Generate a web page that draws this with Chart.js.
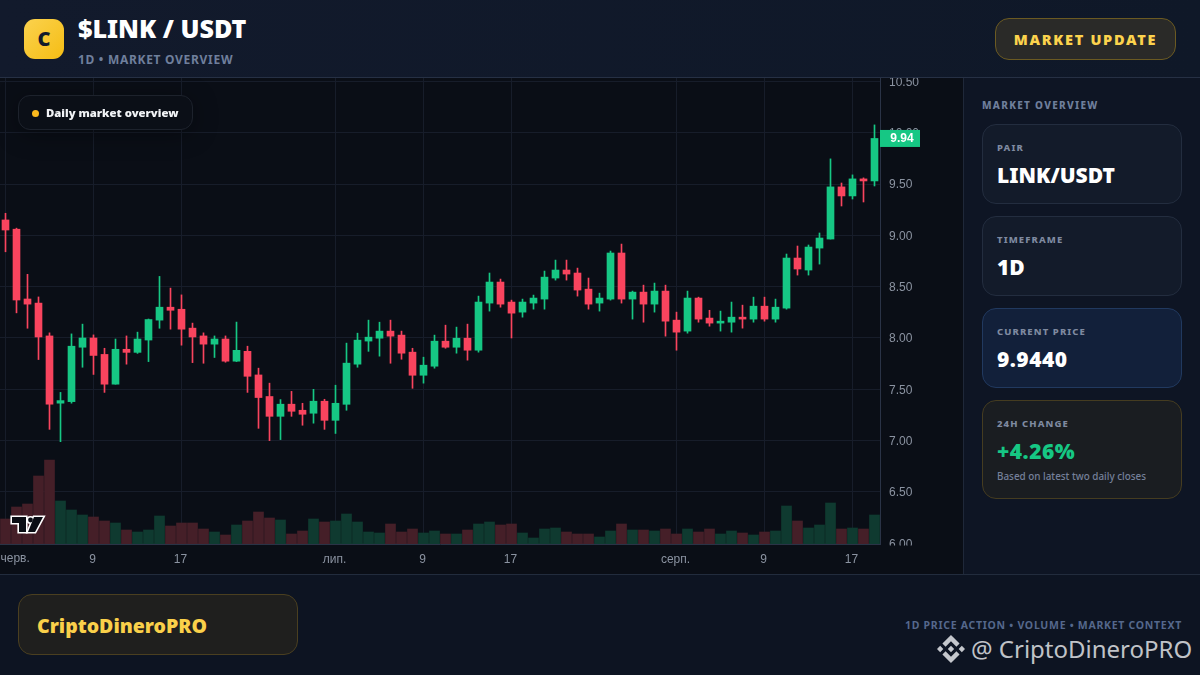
<!DOCTYPE html>
<html>
<head>
<meta charset="utf-8">
<script src="https://cdn.jsdelivr.net/npm/chart.js@4"></script>
<style>
  * { box-sizing: border-box; margin: 0; padding: 0; }
  html, body { width: 1200px; height: 675px; overflow: hidden; background: #0e1524; font-family: "Noto Sans", sans-serif; }
  .abs { position: absolute; }
  #header { left: 0; top: 0; width: 1200px; height: 78px; background: linear-gradient(90deg, #121a2c, #0f1828); border-bottom: 1px solid #263044; z-index: 3; }
  #logo { left: 24px; top: 19px; width: 40px; height: 40px; border-radius: 11px; background: linear-gradient(135deg, #fbd24e, #f5bd14); color: #111a2b; font: 900 20px "Noto Sans"; text-align: center; line-height: 40px; }
  #title { left: 78px; top: 11px; color: #fff; font: 900 25.1px "Noto Sans"; line-height: 34px; white-space: nowrap; }
  #sub { left: 78px; top: 51px; color: #6f7f9c; font: 700 12px "Noto Sans"; letter-spacing: 0.7px; line-height: 17px; white-space: nowrap; }
  #update { left: 995px; top: 18px; width: 181px; height: 42px; border-radius: 14px; border: 1px solid #6b5a22; background: #2a2a28; color: #fcd34d; font: 900 14.5px "Noto Sans"; letter-spacing: 1.7px; text-align: center; line-height: 40px; }
  #chartWrap { left: 0; top: 78px; width: 963px; height: 496px; background: #0a0e16; }
  #pill { left: 18px; top: 95px; width: 175px; height: 35px; border-radius: 12px; border: 1px solid #1d222c; background: #0b0f17; box-shadow: 0 4px 24px rgba(0,0,0,.35); z-index: 2; }
  #pillDot { left: 32px; top: 110px; width: 7px; height: 7px; border-radius: 50%; background: #fbb91e; z-index: 2; }
  #pillText { left: 46px; top: 104px; color: #f1f3f6; font: 900 11.3px "Noto Sans"; line-height: 18px; white-space: nowrap; z-index: 2; }
  #tv { left: 10px; top: 515px; z-index: 2; }
  #side { left: 963px; top: 78px; width: 237px; height: 496px; background: #0e1524; border-left: 1px solid #1f2839; }
  #sideTitle { left: 982px; top: 98px; color: #6f7f9c; font: 800 10px "Noto Sans"; letter-spacing: 1.3px; line-height: 14px; white-space: nowrap; }
  .card { position: absolute; left: 982px; width: 200px; border-radius: 14px; border: 1px solid #232d3f; background: #131b2a; }
  .cardLabel { position: absolute; left: 997px; color: #7f8aa0; font: 800 9.5px "Noto Sans"; letter-spacing: 1.1px; line-height: 13px; white-space: nowrap; }
  .cardValue { position: absolute; left: 997px; color: #fff; font: 900 21px "Noto Sans"; line-height: 28px; white-space: nowrap; }
  #footer { left: 0; top: 574px; width: 1200px; height: 101px; background: #0d1422; border-top: 1px solid #222c3d; }
  #brand { left: 18px; top: 594px; width: 280px; height: 61px; border-radius: 14px; border: 1px solid #4a3f20; background: #1f1f1e; color: #fad04a; font: 900 19.5px "Noto Sans"; padding-left: 18px; line-height: 61px; }
  #tag { right: 18px; top: 618px; color: #55688c; font: 700 10.5px "Noto Sans"; letter-spacing: 0.72px; line-height: 15px; white-space: nowrap; }
  #mark { left: 971px; top: 632px; color: #c0c3c8; font: 400 24px "Noto Sans"; line-height: 34px; white-space: nowrap; }
  #bn { left: 937px; top: 635px; }
</style>
</head>
<body>
<div class="abs" id="header"></div>
<div class="abs" id="logo" style="z-index:4">C</div>
<div class="abs" id="title" style="z-index:4">$LINK / USDT</div>
<div class="abs" id="sub" style="z-index:4">1D • MARKET OVERVIEW</div>
<div class="abs" id="update" style="z-index:4">MARKET UPDATE</div>

<div class="abs" id="chartWrap"><canvas id="chart" width="963" height="496"></canvas></div>

<div class="abs" id="pill"></div>
<div class="abs" id="pillDot"></div>
<div class="abs" id="pillText">Daily market overview</div>
<svg class="abs" id="tv" width="36" height="20" viewBox="0 0 36 20">
  <g fill="#fff" stroke="#fff" stroke-width="3.2">
    <path d="M2 2 H16 V17 H9 V8 H2 Z"/>
    <circle cx="20.5" cy="5" r="2.4"/>
    <path d="M24 2 H33 L25 17 H18 Z"/>
  </g>
  <g fill="#0a0d14">
    <path d="M2 2 H16 V17 H9 V8 H2 Z"/>
    <circle cx="20.5" cy="5" r="2.4"/>
    <path d="M24 2 H33 L25 17 H18 Z"/>
  </g>
</svg>

<div class="abs" id="side"></div>
<div class="abs" id="sideTitle">MARKET OVERVIEW</div>

<div class="card" style="top:124px;height:80px"></div>
<div class="cardLabel" style="top:141px">PAIR</div>
<div class="cardValue" style="top:161px">LINK/USDT</div>

<div class="card" style="top:216px;height:80px"></div>
<div class="cardLabel" style="top:233px">TIMEFRAME</div>
<div class="cardValue" style="top:253px">1D</div>

<div class="card" style="top:308px;height:80px;background:#12203a;border-color:#21395f"></div>
<div class="cardLabel" style="top:325px">CURRENT PRICE</div>
<div class="cardValue" style="top:345px;letter-spacing:.5px">9.9440</div>

<div class="card" style="top:400px;height:99px;background:#1a1d21;border-color:#453c20"></div>
<div class="cardLabel" style="top:417px">24H CHANGE</div>
<div class="cardValue" style="top:437px;color:#16c784;letter-spacing:.5px">+4.26%</div>
<div class="cardLabel" style="top:470px;font-size:9.9px;font-weight:500;letter-spacing:0;color:#75809a">Based on latest two daily closes</div>

<div class="abs" id="footer"></div>
<div class="abs" id="brand">CriptoDineroPRO</div>
<div class="abs" id="tag">1D PRICE ACTION • VOLUME • MARKET CONTEXT</div>
<svg class="abs" id="bn" width="28" height="28" viewBox="0 0 24 24" fill="#c4c7cc">
  <path d="M16.624 13.9202l2.7175 2.7154-7.353 7.353-7.353-7.352 2.7175-2.7164 4.6355 4.6595 4.6356-4.6595zm4.6366-4.6366L24 12l-2.7154 2.7164L18.5682 12l2.6924-2.7164zm-9.272.001l2.7163 2.6914-2.7164 2.7174v-.001L9.2721 12l2.7164-2.7154zm-9.2722-.001L5.4088 12l-2.6914 2.6924L0 12l2.7164-2.7164zM11.9885.0115l7.353 7.329-2.7174 2.7154-4.6356-4.6356-4.6355 4.6595-2.7174-2.7154 7.353-7.353z"/>
</svg>
<div class="abs" id="mark">@ CriptoDineroPRO</div>

<script>
// daily candles, 1 June .. 19 Aug
const dates = ['06-01','06-02','06-03','06-04','06-05','06-06','06-07','06-08','06-09','06-10','06-11','06-12','06-13','06-14','06-15','06-16','06-17','06-18','06-19','06-20','06-21','06-22','06-23','06-24','06-25','06-26','06-27','06-28','06-29','06-30','07-01','07-02','07-03','07-04','07-05','07-06','07-07','07-08','07-09','07-10','07-11','07-12','07-13','07-14','07-15','07-16','07-17','07-18','07-19','07-20','07-21','07-22','07-23','07-24','07-25','07-26','07-27','07-28','07-29','07-30','07-31','08-01','08-02','08-03','08-04','08-05','08-06','08-07','08-08','08-09','08-10','08-11','08-12','08-13','08-14','08-15','08-16','08-17','08-18','08-19'];

const opens = [9.15,9.06,8.38,8.34,8.02,7.365,7.38,7.91,8.0,7.84,7.55,7.89,7.86,7.98,8.174,8.30,8.28,8.096,8.02,7.94,7.99,7.774,7.87,7.64,7.43,7.237,7.355,7.296,7.267,7.384,7.198,7.354,7.745,7.97,7.998,8.067,8.028,7.862,7.637,7.725,7.969,7.91,7.998,7.881,8.34,8.545,8.35,8.252,8.34,8.379,8.584,8.662,8.633,8.476,8.34,8.379,8.828,8.379,8.447,8.33,8.457,8.174,8.067,8.389,8.194,8.145,8.154,8.203,8.184,8.31,8.184,8.291,8.779,8.662,8.876,8.964,9.472,9.384,9.55,9.53];
const closes = [9.052,8.37,8.33,8.01,7.355,7.39,7.92,8.0,7.83,7.55,7.89,7.86,7.99,8.18,8.30,8.27,8.086,8.01,7.94,7.99,7.774,7.88,7.627,7.42,7.237,7.355,7.286,7.257,7.384,7.198,7.364,7.755,7.979,8.008,8.067,8.018,7.852,7.637,7.735,7.969,7.91,7.998,7.881,8.35,8.545,8.33,8.242,8.35,8.389,8.593,8.662,8.623,8.467,8.33,8.389,8.828,8.379,8.447,8.33,8.457,8.164,8.057,8.389,8.184,8.145,8.164,8.203,8.184,8.31,8.184,8.30,8.779,8.672,8.886,8.974,9.472,9.384,9.55,9.53,9.944];
const highs = [9.215,9.07,8.62,8.40,8.05,7.47,8.04,8.135,8.03,7.90,7.99,8.02,8.057,8.185,8.60,8.486,8.42,8.145,8.05,8.02,8.02,8.155,7.92,7.706,7.56,7.40,7.48,7.364,7.50,7.403,7.54,7.95,8.047,8.174,8.154,8.174,8.067,7.90,7.813,8.028,8.125,8.106,8.135,8.408,8.633,8.574,8.369,8.379,8.418,8.652,8.759,8.759,8.681,8.584,8.437,8.847,8.915,8.457,8.515,8.535,8.515,8.252,8.457,8.398,8.27,8.262,8.35,8.32,8.398,8.398,8.379,8.818,8.896,8.906,9.023,9.745,9.51,9.589,9.56,10.076];
const lows = [8.84,8.245,8.095,7.79,7.11,6.99,7.365,7.715,7.645,7.47,7.55,7.745,7.85,7.77,8.095,8.086,7.93,7.76,7.754,7.81,7.764,7.77,7.47,7.12,7.0,7.01,7.237,7.15,7.17,7.11,7.07,7.296,7.715,7.87,7.823,7.754,7.793,7.51,7.56,7.706,7.90,7.852,7.784,7.862,8.262,8.30,8.0,8.203,8.281,8.281,8.564,8.564,8.408,8.281,8.262,8.369,8.34,8.184,8.154,8.252,8.018,7.881,8.047,8.154,8.115,8.067,8.057,8.096,8.154,8.164,8.154,8.281,8.613,8.613,8.72,8.964,9.286,9.354,9.325,9.481];
const volumes = [25,37,40,68,84,43,34,29,27,23,21,14,12,14,28,18,21,21,15,12,9,19,23,32,26,24,10,13,25,22,23,30,22,12,11,20,12,15,11,13,10,10,14,20,22,19,20,11,6,15,16,12,10,10,7,13,20,14,14,13,15,10,15,12,15,10,13,11,9,12,13,38,23,16,19,41,15,16,15,29];

// labelled days: index into dates -> text on the time axis
const timeTicks = { 0: 'черв.', 8: '9', 16: '17', 30: 'лип.', 38: '9', 46: '17', 61: 'серп.', 69: '9', 77: '17' };
const priceTicks = [6, 6.5, 7, 7.5, 8, 8.5, 9, 9.5, 10, 10.5];

const UP = '#16c784', DOWN = '#f9445e';
const UP_VOL = '#0f3a30', DOWN_VOL = '#451f28';
const GRID = '#171d2a', AXIS_TEXT = '#8b93a1', CHART_BG = '#0a0e16';

const candleColors = closes.map((c, i) => c >= opens[i] ? UP : DOWN);
const volumeColors = closes.map((c, i) => c >= opens[i] ? UP_VOL : DOWN_VOL);

// last-price badge, the first month label against the left edge, and the cut-off 6.00 label
const overlay = {
  id: 'overlay',
  afterDraw(chart) {
    const { ctx, scales } = chart;
    const last = closes[closes.length - 1];
    const y = scales.y.getPixelForValue(last);
    const left = scales.y.left;
    ctx.save();
    ctx.fillStyle = CHART_BG;
    ctx.fillRect(left + 1, scales.x.top + 1.5, 82, 12);
    ctx.fillStyle = UP;
    ctx.fillRect(left, y - 8.5, 40, 17);
    ctx.fillStyle = '#fff';
    ctx.font = 'bold 12px "Liberation Sans"';
    ctx.textBaseline = 'middle';
    ctx.textAlign = 'center';
    ctx.fillText(last.toFixed(2), left + 22, y + 0.5);
    ctx.fillStyle = AXIS_TEXT;
    ctx.font = '12px "Liberation Sans"';
    ctx.textAlign = 'left';
    ctx.fillText(timeTicks[0], 0.5, scales.x.top + 15);
    ctx.restore();
  }
};

new Chart(document.getElementById('chart').getContext('2d'), {
  data: {
    labels: dates,
    datasets: [
      { type: 'bar', yAxisID: 'vol', data: volumes, backgroundColor: volumeColors, barThickness: 10, grouped: false, order: 3 },
      { type: 'bar', data: lows.map((l, i) => [l, highs[i]]), backgroundColor: candleColors, barThickness: 1, grouped: false, order: 2 },
      { type: 'bar', data: opens.map((o, i) => [o, closes[i]]), backgroundColor: candleColors, barThickness: 7, grouped: false, order: 1 }
    ]
  },
  options: {
    responsive: false,
    animation: false,
    layout: { padding: 0 },
    plugins: { legend: { display: false }, tooltip: { enabled: false } },
    scales: {
      x: {
        position: 'bottom',
        afterFit(s) { s.height = 30; s.paddingLeft = 0; s.paddingRight = 0; },
        grid: {
          offset: false,
          color: ctx => (ctx.index in timeTicks) ? GRID : 'transparent',
          drawTicks: false
        },
        border: { color: '#2a3346' },
        ticks: {
          autoSkip: false,
          maxRotation: 0,
          padding: 8,
          labelOffset: -1,
          color: AXIS_TEXT,
          font: { size: 12, family: '"Liberation Sans"' },
          callback: (v, i) => i === 0 ? '' : (timeTicks[i] || '')
        }
      },
      y: {
        position: 'right',
        min: 5.993,
        max: 10.533,
        afterFit(s) { s.width = 83; s.paddingTop = 0; s.paddingBottom = 0; },
        afterBuildTicks(s) { s.ticks = priceTicks.map(value => ({ value })); },
        grid: { color: GRID, drawTicks: false },
        border: { color: '#2a3346' },
        ticks: {
          padding: 9,
          labelOffset: 1,
          color: AXIS_TEXT,
          font: { size: 12, family: '"Liberation Sans"' },
          callback: v => v.toFixed(2)
        }
      },
      vol: { display: false, min: 0, max: 466 }
    }
  },
  plugins: [overlay]
});
</script>
</body>
</html>
